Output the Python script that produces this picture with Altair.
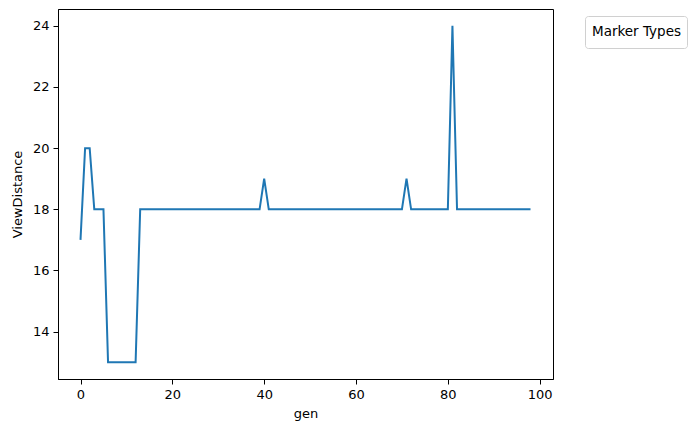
import altair as alt
import pandas as pd

gen = list(range(0, 99))
view_distance = (
    [17, 20, 20, 18, 18, 18]
    + [13] * 7
    + [18] * 27
    + [19]
    + [18] * 30
    + [19]
    + [18] * 9
    + [24]
    + [18] * 17
)
x_ticks = [0, 20, 40, 60, 80, 100]
y_ticks = [14, 16, 18, 20, 22, 24]

df = pd.DataFrame({"gen": gen[: len(view_distance)], "ViewDistance": view_distance})

W, H = 495, 370
FONT = "DejaVu Sans"

line = alt.Chart(df).mark_line(color="#1f77b4", strokeWidth=2, clip=True).encode(
    x=alt.X(
        "gen:Q",
        scale=alt.Scale(domain=[-4.9, 102.9], nice=False, zero=False),
        axis=alt.Axis(values=x_ticks, title="gen", format="d"),
    ),
    y=alt.Y(
        "ViewDistance:Q",
        scale=alt.Scale(domain=[12.45, 24.55], nice=False, zero=False),
        axis=alt.Axis(values=y_ticks, title="ViewDistance", format="d"),
    ),
)

legend_box = alt.Chart(pd.DataFrame({"a": [0]})).mark_rect(
    fill="white", stroke="#d0d0d0", strokeWidth=1, cornerRadius=3
).encode(
    x=alt.value(527.5), x2=alt.value(629.5), y=alt.value(7.5), y2=alt.value(39.5)
)
legend_text = alt.Chart(pd.DataFrame({"t": ["Marker Types"]})).mark_text(
    font=FONT, fontSize=13.5, color="black", align="center", baseline="middle"
).encode(x=alt.value(578.5), y=alt.value(23), text="t:N")

chart = (
    alt.layer(line, legend_box, legend_text)
    .properties(
        width=W,
        height=H,
        autosize=alt.AutoSizeParams(type="none"),
        padding={"left": 50, "top": 1, "right": 135, "bottom": 45},
    )
    .configure_view(stroke="black", strokeWidth=1)
    .configure_axis(
        grid=False,
        domainColor="black",
        domainWidth=1,
        tickColor="black",
        tickSize=5,
        tickWidth=1,
        labelFont=FONT,
        labelFontSize=13,
        labelColor="black",
        labelPadding=4,
        titleFont=FONT,
        titleFontSize=13,
        titleFontWeight="normal",
        titleColor="black",
    )
    .configure_axisX(titlePadding=6)
    .configure_axisY(titlePadding=8)
)

chart.save("out.html", embed_options={"renderer": "svg", "actions": False})
